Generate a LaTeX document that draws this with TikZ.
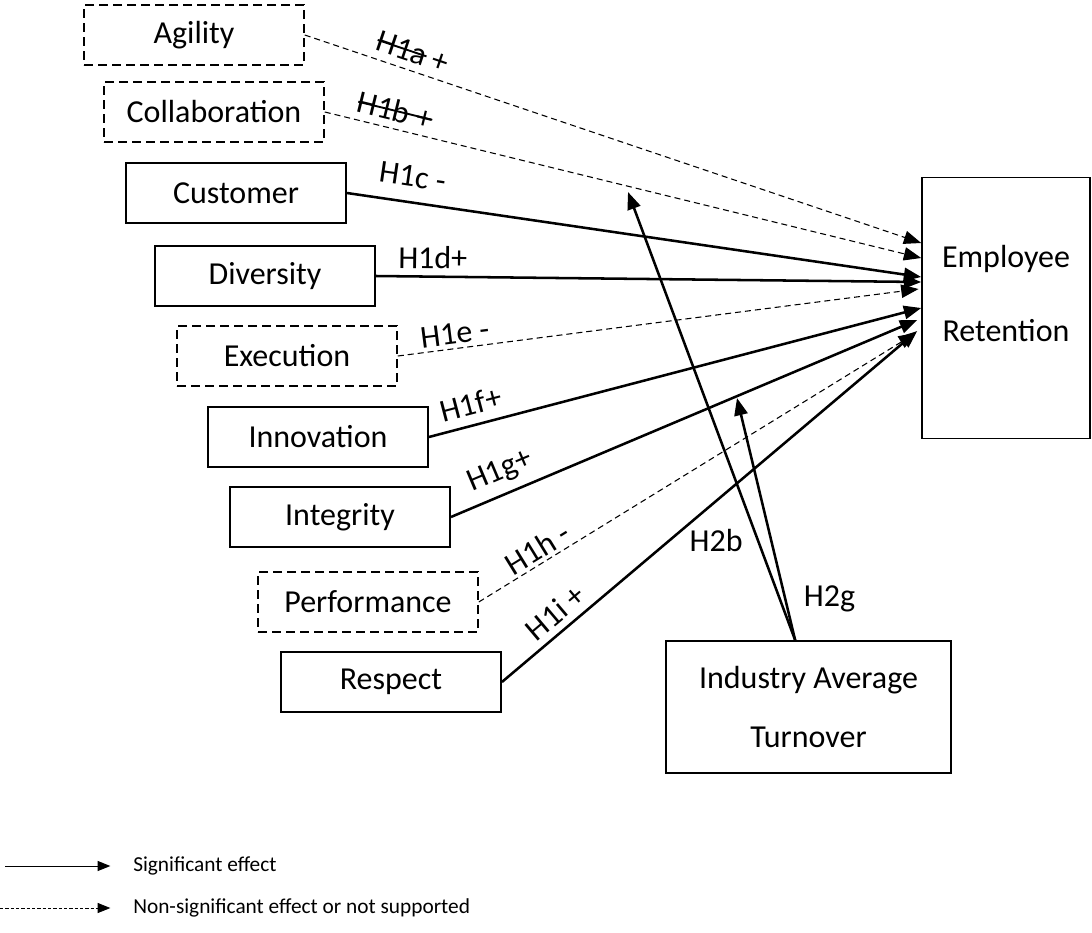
\documentclass[tikz,border=0pt]{standalone}
\usepackage{fontspec}
\setmainfont{Carlito}
\usetikzlibrary{arrows.meta}

\newlength{\strkw}
\newcommand{\strk}[1]{\settowidth{\strkw}{#1}\rlap{\rule[0.3em]{\strkw}{1.4pt}}#1}

\tikzset{
	kbox/.style={draw, line width=1.4pt, minimum width=165pt, minimum height=45pt, inner sep=0pt, font=\fontsize{24}{29}\selectfont},
	nbox/.style={kbox, line width=1.2pt, dash pattern=on 6.5pt off 4pt},
	sig/.style={line width=1.9pt, -{Triangle[length=13pt, width=10pt]}},
	nsig/.style={line width=0.8pt, dash pattern=on 4.5pt off 3pt, -{Triangle[length=13pt, width=10pt]}},
	hlbl/.style={font=\fontsize{24}{29}\selectfont, sloped, inner sep=2pt},
	legtxt/.style={anchor=west, inner sep=0pt, font=\fontsize{16}{19}\selectfont}
}

\begin{document}
\begin{tikzpicture}[x=0.75pt, y=-0.75pt]
			\useasboundingbox (0,0) rectangle (1092,932);
			
			% Konstrukte links
			\node[nbox] (agi) at (194,35) {Agility};
			\node[nbox] (col) at (214,112) {Collaboration};
			\node[kbox] (cus) at (236,193) {Customer};
			\node[kbox] (div) at (265,276) {Diversity};
			\node[nbox] (exe) at (287,356) {Execution};
			\node[kbox] (inn) at (318,437) {Innovation};
			\node[kbox] (int) at (340,517) {Integrity};
			\node[nbox] (per) at (368,602) {Performance};
			\node[kbox] (res) at (391,682) {Respect};
			
			% Zielgroesse und Moderator
			\node[kbox, line width=1.2pt, minimum width=126pt, minimum height=196pt, align=center, text depth=22pt] (er) at (1006,308) {Employee\\[26pt]Retention};
			\node[kbox, line width=1.2pt, minimum width=214pt, minimum height=99pt, align=center] (ind) at (808.5,707) {Industry Average\\[15pt]Turnover};
			
			% Pfade H1
			\draw[nsig] (agi.east) -- node[hlbl, pos=0.166, above=3.5pt] {\strk{H1a} +} ([yshift=48.75pt]er.west);
			\draw[nsig] (col.east) -- node[hlbl, pos=0.111, above=3pt] {\strk{H1b +}} ([yshift=37.5pt]er.west);
			\draw[sig] (cus.east) -- node[hlbl, pos=0.108, above=8.5pt] {H1c -} ([yshift=23.25pt]er.west);
			\draw[sig] (div.east) -- node[hlbl, pos=0.104, above=3pt] {H1d+} ([yshift=19.5pt]er.west);
			\draw[nsig] (exe.east) -- node[hlbl, pos=0.113, above=1pt] {H1e -} ([xshift=-2pt, yshift=14.25pt]er.west);
			\draw[sig] (inn.east) -- node[hlbl, pos=0.096, above=5pt] {H1f+} (er.west);
			\draw[sig] (int.east) -- node[hlbl, pos=0.125, above=4pt] {H1g+} ([xshift=-3pt, yshift=-9pt]er.west);
			\draw[nsig] (per.east) -- node[hlbl, pos=0.152, above=0.5pt] {H1h -} ([xshift=-4pt, yshift=-18.75pt]er.west);
			\draw[sig] (res.east) -- node[hlbl, pos=0.158, above=3pt] {H1i +} ([xshift=-3pt, yshift=-17.25pt]er.west);
			
			% Moderation H2
			\coordinate (h2b) at (628,192);
			\coordinate (h2g) at (737,398);
			\draw[sig] ([xshift=-10pt]ind.north) -- node[hlbl, sloped=false, pos=0.223, left=8.5pt] {H2b} (h2b);
			\draw[sig] ([xshift=-10pt]ind.north) -- node[hlbl, sloped=false, pos=0.169, right=11pt] {H2g} (h2g);
			
			% Legende
			\coordinate (ls) at (5,866);
			\coordinate (ln) at (0,908);
			\node[legtxt] (legsig) at (133,866) {Significant effect};
			\node[legtxt] (legns) at (133,908) {Non-significant effect or not supported};
			\draw[line width=0.7pt, -{Triangle[length=9.5pt, width=7.5pt]}] (ls) -- ([xshift=-17pt]legsig.west);
			\draw[line width=0.6pt, dash pattern=on 2.5pt off 1.5pt, -{Triangle[length=9.5pt, width=7.5pt]}] (ln) -- ([xshift=-17pt]legns.west);
		\end{tikzpicture}
\end{document}
